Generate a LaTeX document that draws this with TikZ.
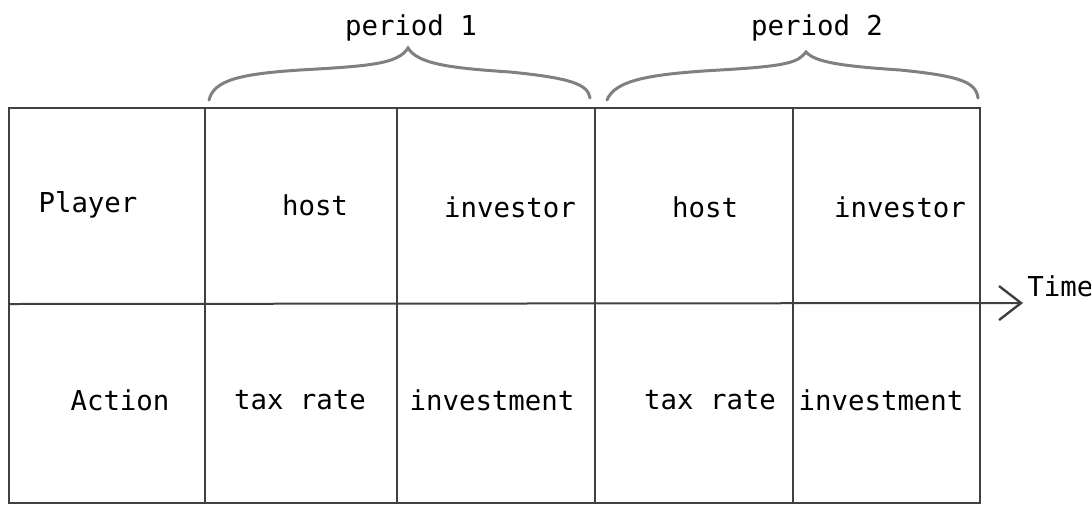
\documentclass[tikz,border=0pt]{standalone}
\usepackage{fontspec}
\setmonofont{DejaVu Sans Mono}
\usetikzlibrary{arrows.meta}

\begin{document}
\begin{tikzpicture}
      [
        x = 0.5pt, y = -0.5pt,
        every node/.style = {font=\ttfamily\fontsize{13.7}{16}\selectfont, inner sep=0pt},
        grid/.style = {draw=black!75, line width=1pt},
        bracket/.style = {draw=black!50, line width=1.5pt, line cap=round}
      ]

      \useasboundingbox (0,0) rectangle (1091,505);

      % table
      \draw[grid] (9,108) rectangle (980,503);
      \foreach \x in {205,397,595,793} {
          \draw[grid] (\x,108) -- (\x,503);
        }

      \coordinate (timestart) at (9,304);
      \coordinate (timeend) at (1023,303);
      \draw[grid, -{Straight Barb[length=11pt,width=17pt,line width=1.2pt]}] (timestart) -- (timeend);
      \node[anchor=west] (time) at (1027,286) {Time};

      % periods
      \draw[bracket] (209,100) .. controls (214,80) and (240,74) .. (300,70)
        .. controls (370,66) and (398,64) .. (408,48)
        .. controls (418,64) and (450,68) .. (510,72)
        .. controls (570,78) and (588,84) .. (590,98);
      \draw[bracket] (607,100) .. controls (615,80) and (650,74) .. (720,70)
        .. controls (790,66) and (798,62) .. (806,52)
        .. controls (815,62) and (840,66) .. (900,70)
        .. controls (960,76) and (976,82) .. (978,98);
      \node[] (periodA) at (411,28) {period 1};
      \node[] (periodB) at (817,28) {period 2};

      % rows
      \node[] (player) at (88,205) {Player};
      \node[] (hostA) at (315,205) {host};
      \node[] (investorA) at (510,207) {investor};
      \node[] (hostB) at (705,207) {host};
      \node[] (investorB) at (900,207) {investor};

      \node[] (action) at (120,400) {Action};
      \node[] (taxA) at (300,400) {tax rate};
      \node[] (investA) at (492,400) {investment};
      \node[] (taxB) at (710,400) {tax rate};
      \node[] (investB) at (881,400) {investment};

    \end{tikzpicture}
\end{document}
